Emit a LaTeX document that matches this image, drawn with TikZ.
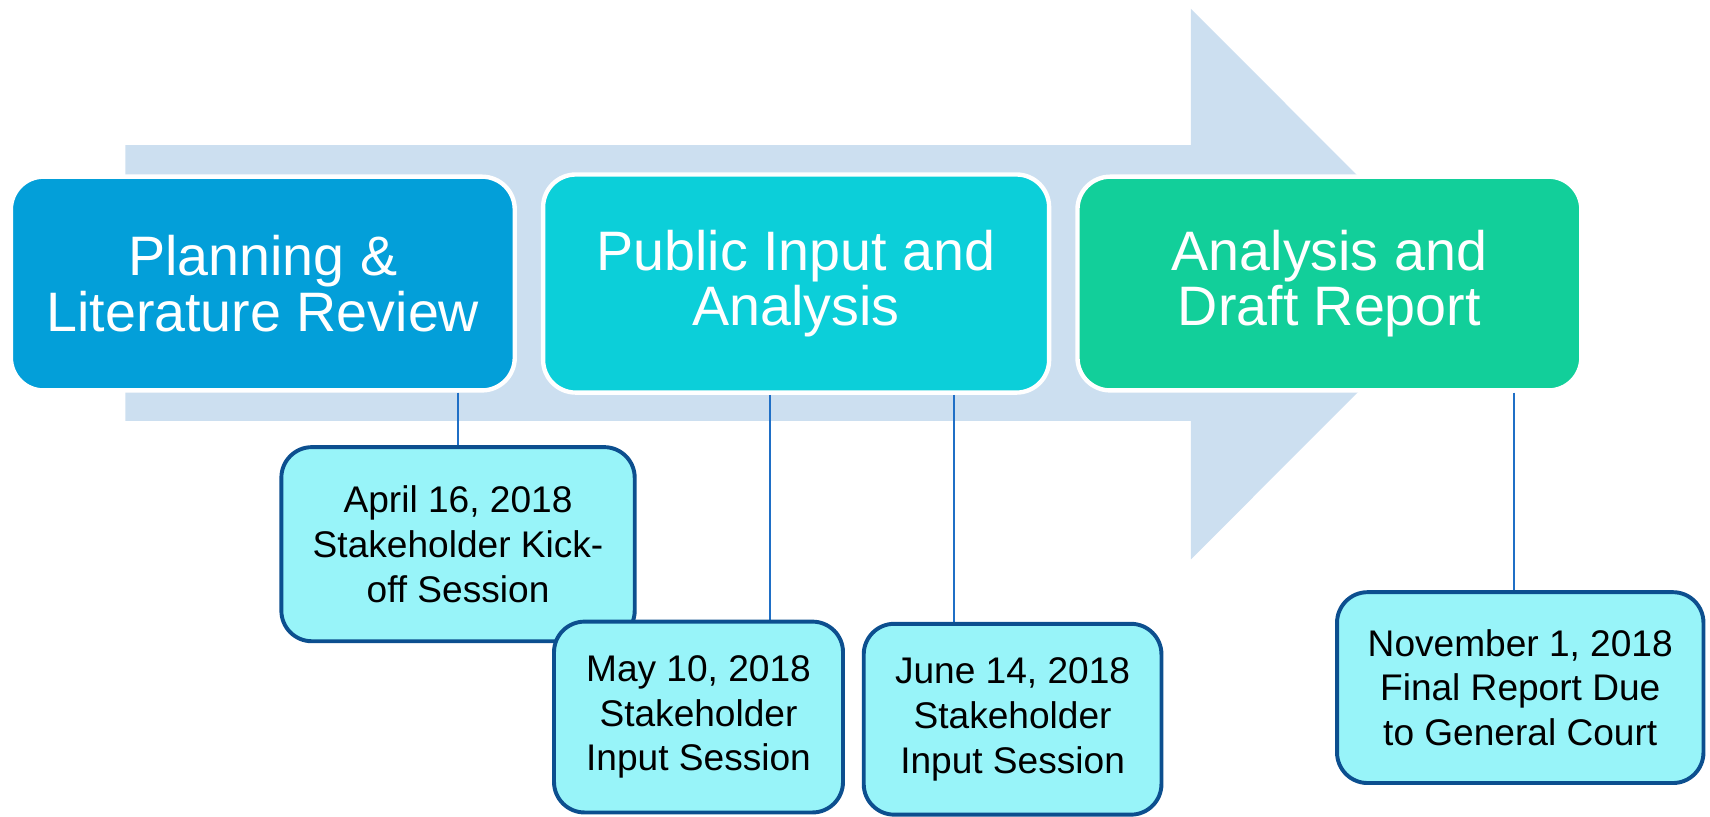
\documentclass[tikz,border=0pt]{standalone}
\usepackage{fontspec}
\setmainfont{Liberation Sans}
\definecolor{arrowc}{RGB}{204,223,240}
\definecolor{cA}{RGB}{3,159,217}
\definecolor{cB}{RGB}{12,207,217}
\definecolor{cC}{RGB}{18,207,154}
\definecolor{smallfill}{RGB}{152,244,249}
\definecolor{smallborder}{RGB}{12,79,143}
\definecolor{connc}{RGB}{31,111,198}
\tikzset{
  phase/.style={draw=white, line width=2pt, rounded corners=15pt, text=white,
    align=center, inner sep=0pt, minimum width=231pt, minimum height=98pt,
    font=\fontsize{25.5}{25.5}\selectfont},
  event/.style={draw=smallborder, fill=smallfill, line width=1.8pt, rounded corners=14pt,
    text=black, align=center, inner sep=0pt, minimum height=87.5pt,
    font=\fontsize{17}{20.5}\selectfont},
  conn/.style={draw=connc, line width=0.8pt}
}
\begin{document}
\begin{tikzpicture}[x=0.5pt,y=-0.5pt]
\useasboundingbox (0,0) rectangle (1568,749);
% background arrow
\fill[arrowc] (115,133) -- (1092,133) -- (1092,8) -- (1344,260.5) -- (1092,513) -- (1092,386) -- (115,386) -- cycle;
% phase boxes
\node[phase, fill=cA] (b1) at (241,260) {Planning \&\\Literature Review};
\node[phase, fill=cB, minimum width=232pt, minimum height=100pt] (b2) at (730,260) {Public Input and\\Analysis};
\node[phase, fill=cC] (b3) at (1219,260) {Analysis and\\Draft Report};
% connector anchor points
\coordinate (atop) at (420,410);
\coordinate (mtop) at (706,570);
\coordinate (jtop) at (875,572);
\coordinate (ntop) at (1388,543);
\draw[conn] (atop |- b1.south) -- (atop);
\draw[conn] (mtop |- b2.south) -- (mtop);
\draw[conn] (jtop |- b2.south) -- (jtop);
\draw[conn] (ntop |- b3.south) -- (ntop);
% event boxes
\node[event, minimum width=162pt, minimum height=89pt] (e1) at (420,499) {April 16, 2018\\Stakeholder Kick-\\off Session};
\node[event, minimum width=132.5pt] (e2) at (640.5,657.5) {May 10, 2018\\Stakeholder\\Input Session};
\node[event, minimum width=136.5pt] (e3) at (928.5,659.5) {June 14, 2018\\Stakeholder\\Input Session};
\node[event, minimum width=168pt] (e4) at (1394,630.5) {November 1, 2018\\Final Report Due\\to General Court};
\end{tikzpicture}
\end{document}
